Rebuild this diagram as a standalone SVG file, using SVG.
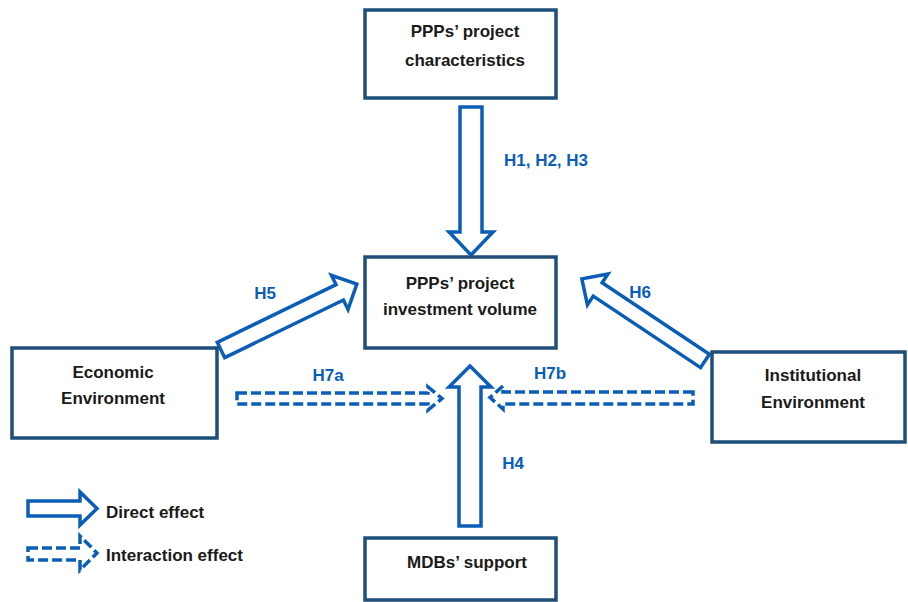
<svg xmlns="http://www.w3.org/2000/svg" width="908" height="602" viewBox="0 0 908 602">
<style>
.box{fill:#fff;stroke:#1f4e79;stroke-width:3.5}
.t{font-family:"Liberation Sans",Arial,sans-serif;font-weight:bold;font-size:17px;fill:#1a1a1a;text-anchor:middle}
.lg{font-family:"Liberation Sans",Arial,sans-serif;font-weight:bold;font-size:17px;fill:#1a1a1a}
.lbl{font-family:"Liberation Sans",Arial,sans-serif;font-weight:bold;font-size:17px;fill:#0b5eb8;text-anchor:middle}
.arr{fill:#fff;stroke:#0b5eb8;stroke-width:3.5;stroke-linejoin:miter}
.darr{fill:none;stroke:#0b5eb8;stroke-width:3.5;stroke-dasharray:10 4}
</style>
<rect width="908" height="602" fill="#fff"/>
<g id="connectors">
  <path class="arr" d="M460,107 H482 V232 H493 L471,255 L449,232 H460 Z"/>
  <path class="arr" d="M459,526 V387 H449 L470,366 L491,387 H481 V526 Z"/>
  <path class="arr" transform="translate(221,350) rotate(-25.9)" d="M0,-8.5 H132 V-19 L151,0 L132,19 V8.5 H0 Z"/>
  <path class="arr" transform="translate(705,361) rotate(-146.3)" d="M0,-8 H129 V-18.5 L148,0 L129,18.5 V8 H0 Z"/>
  <path class="darr" d="M237,393 H428 V387 L442,398.5 L428,410 V404 H237 Z"/>
  <path class="darr" d="M693,392 H503 V386 L490,397.5 L503,409 V404 H693 Z"/>
</g>
<g id="node-characteristics">
  <rect class="box" x="365" y="10" width="191" height="88"/>
  <text class="t" x="465" y="37">PPPs’ project</text>
  <text class="t" x="465" y="66">characteristics</text>
</g>
<g id="node-investment">
  <rect class="box" x="365" y="257" width="191" height="91"/>
  <text class="t" x="460" y="289">PPPs’ project</text>
  <text class="t" x="460" y="315">investment volume</text>
</g>
<g id="node-economic">
  <rect class="box" x="12" y="348" width="205" height="90"/>
  <text class="t" x="113" y="378">Economic</text>
  <text class="t" x="113" y="404">Environment</text>
</g>
<g id="node-institutional">
  <rect class="box" x="712" y="352" width="193" height="90"/>
  <text class="t" x="813" y="381">Institutional</text>
  <text class="t" x="813" y="408">Environment</text>
</g>
<g id="node-mdbs">
  <rect class="box" x="365" y="538" width="191" height="62"/>
  <text class="t" x="467" y="568">MDBs’ support</text>
</g>
<g id="labels">
  <text class="lbl" x="546" y="166">H1, H2, H3</text>
  <text class="lbl" x="265" y="299">H5</text>
  <text class="lbl" x="640" y="298">H6</text>
  <text class="lbl" x="328" y="381">H7a</text>
  <text class="lbl" x="550" y="379">H7b</text>
  <text class="lbl" x="513" y="469">H4</text>
</g>
<g id="legend">
  <path class="arr" d="M28,501 H80 V492 L97,508.5 L80,525 V516 H28 Z"/>
  <path class="darr" d="M28,548 H80 V536 L97,553 L80,570 V560 H28 Z"/>
  <text class="lg" x="106" y="518">Direct effect</text>
  <text class="lg" x="106" y="561">Interaction effect</text>
</g>
</svg>
